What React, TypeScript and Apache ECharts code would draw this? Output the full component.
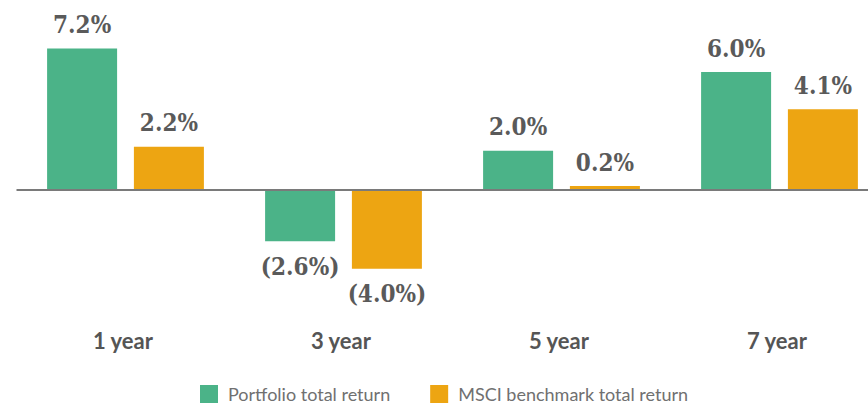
import React, { useEffect, useRef } from "react";
import * as echarts from "echarts";

const categories = ["1 year", "3 year", "5 year", "7 year"];
const portfolio = [7.2, -2.6, 2.0, 6.0];
const benchmark = [2.2, -4.0, 0.2, 4.1];
const seriesNames = ["Portfolio total return", "MSCI benchmark total return"];

const fmt = (v: number) => (v < 0 ? `(${Math.abs(v).toFixed(1)}%)` : `${v.toFixed(1)}%`);

export default function App() {
  const ref = useRef<HTMLDivElement>(null);
  useEffect(() => {
    const chart = echarts.init(ref.current!, null, { renderer: "svg" });
    const labelStyle = (pos: string) => ({
      show: true,
      position: pos,
      distance: pos === "top" ? 12 : 13,
      formatter: (p: any) => fmt(p.value),
      fontFamily: "'DejaVu Serif Condensed', 'DejaVu Serif'",
      fontWeight: "bold",
      fontSize: 24,
      color: "#5a5a5a",
    });
    const mkData = (arr: number[]) =>
      arr.map((v) => ({ value: v, label: labelStyle(v < 0 ? "bottom" : "top") }));
    chart.setOption({
      animation: false,
      grid: { left: 16.5, right: 11.5, top: 13, height: 295, containLabel: false },
      legend: {
        top: 385,
        left: 200,
        padding: 0,
        itemWidth: 18,
        itemHeight: 18,
        itemGap: 40,
        icon: "rect",
        textStyle: { fontFamily: "Lato", fontSize: 18, color: "#707070", padding: [0, 0, 0, 5] },
        data: seriesNames,
      },
      xAxis: {
        type: "category",
        data: categories,
        axisLine: { show: false, onZero: false },
        axisTick: { show: false },
        axisLabel: {
          margin: 21,
          fontFamily: "Lato",
          fontWeight: "bold",
          fontSize: 22,
          color: "#555555",
          padding: [0, 5, 0, 0],
        },
      },
      yAxis: {
        type: "value",
        min: -6,
        max: 9,
        show: false,
        splitLine: { show: false },
      },
      series: [
        {
          name: seriesNames[0],
          type: "bar",
          barWidth: 70,
          barGap: "24%",
          itemStyle: { color: "#4BB388" },
          data: mkData(portfolio),
          markLine: {
            silent: true,
            symbol: "none",
            label: { show: false },
            lineStyle: { color: "#7a7a7a", width: 2, type: "solid" },
            data: [{ yAxis: 0 }],
          },
        },
        {
          name: seriesNames[1],
          type: "bar",
          barWidth: 70,
          itemStyle: { color: "#EDA512" },
          data: mkData(benchmark),
        },
      ],
    });
    return () => chart.dispose();
  }, []);
  return (
    <div
      style={{
        position: "fixed",
        left: 0,
        top: 0,
        width: 868,
        height: 408,
        overflow: "hidden",
        background: "#fff",
      }}
    >
      <div ref={ref} style={{ width: 900, height: 408 }} />
    </div>
  );
}
